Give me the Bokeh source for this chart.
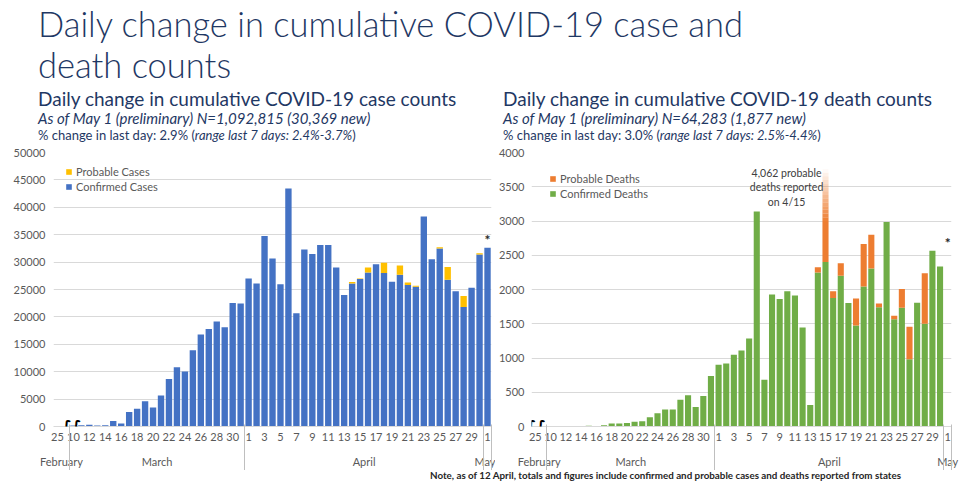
import numpy as np
from bokeh.plotting import figure
from bokeh.models import (ColumnDataSource, Range1d, FixedTicker, LinearAxis,
                          Legend, LegendItem, Label, Div)
from bokeh.layouts import column, row
from bokeh.embed import file_html
from bokeh.resources import INLINE

# ---------------- data ----------------
day_labels = ["25", "",
              "10", "11", "12", "13", "14", "15", "16", "17", "18", "19", "20",
              "21", "22", "23", "24", "25", "26", "27", "28", "29", "30", "31",
              "1", "2", "3", "4", "5", "6", "7", "8", "9", "10", "11", "12", "13",
              "14", "15", "16", "17", "18", "19", "20", "21", "22", "23", "24",
              "25", "26", "27", "28", "29", "30",
              "1"]
months = ["February", "March", "April", "May"]
month_sizes = [2, 22, 30, 1]

cases_confirmed = [0, 0,
                   200, 250, 300, 200, 250, 1000, 550, 2650, 3250, 4600, 3450,
                   5650, 8650, 10800, 10050, 13900, 16800, 17800, 19150, 18100,
                   22550, 22450,
                   27000, 26100, 34750, 30650, 25950, 43450, 20650, 32300, 31500,
                   33100, 33100, 29000, 24000, 26100, 26900, 28100, 29600, 28000,
                   26400, 27700, 25800, 25500, 38300, 30500, 32500, 26800, 24700,
                   21800, 25300, 31400,
                   32600]
cases_probable = [0, 0,
                  0, 0, 0, 0, 0, 0, 0, 0, 0, 0, 0, 0, 0, 0, 0, 0, 0, 0, 0, 0, 0, 0,
                  0, 0, 0, 0, 0, 0, 0, 0, 0, 0, 0, 0, 0, 250, 100, 900, 0, 1900,
                  0, 1700, 500, 200, 0, 0, 200, 2300, 0, 2000, 0, 200,
                  0]
deaths_confirmed = [0, 0,
                    2, 3, 2, 3, 5, 10, 5, 20, 45, 45, 50, 70, 78, 135, 195, 250,
                    247, 391, 457, 283, 445, 738,
                    902, 919, 1046, 1109, 1285, 3138, 684, 1926, 1862, 1975, 1911,
                    1447, 313, 2248, 2400, 1877, 2199, 1804, 1476, 2043, 2307,
                    1740, 2986, 1564, 1735, 982, 1808, 1500, 2566, 2336,
                    0]
deaths_probable = [0, 0,
                   0, 0, 0, 0, 0, 0, 0, 0, 0, 0, 0, 0, 0, 0, 0, 0, 0, 0, 0, 0, 0, 0,
                   0, 0, 0, 0, 0, 0, 0, 0, 0, 0, 0, 0, 0, 78, 4062, 98, 186, 0,
                   391, 621, 493, 54, 0, 54, 274, 474, 0, 738, 0, 0,
                   0]

case_ticks = [0, 5000, 10000, 15000, 20000, 25000, 30000, 35000, 40000, 45000, 50000]
death_ticks = [0, 500, 1000, 1500, 2000, 2500, 3000, 3500, 4000]

main_title = ["Daily change in cumulative COVID-19 case and", "death counts"]
case_sub = ["Daily change in cumulative COVID-19 case counts",
            "As of May 1 (preliminary) N=1,092,815 (30,369 new)",
            "% change in last day: 2.9% (", "range last 7 days: 2.4%-3.7%", ")"]
death_sub = ["Daily change in cumulative COVID-19 death counts",
             "As of May 1 (preliminary) N=64,283 (1,877 new)",
             "% change in last day: 3.0% (", "range last 7 days: 2.5%-4.4%", ")"]
note_text = ("Note, as of 12 April, totals and figures include confirmed and "
             "probable cases and deaths reported from states")

# ---------------- style ----------------
FONT = "Lato"
GRAY = "#595959"
GRID = "#D9D9D9"
NAVY = "#1F3864"
HEADER_H = 144
FIG_H = 326
NOTE_H = 14


def make_chart(conf, prob, y_ticks, conf_color, prob_color, conf_label, prob_label,
               width, min_left, min_right, y_standoff, legend_xy):
    n = len(day_labels)
    x = np.arange(n)
    conf = np.asarray(conf, float)
    prob = np.asarray(prob, float)
    ymax = y_ticks[-1]
    p = figure(width=width, height=FIG_H, output_backend="svg", toolbar_location=None,
               tools="", x_range=Range1d(-0.5, n - 0.5), y_range=Range1d(0, ymax),
               min_border_left=min_left, min_border_right=min_right,
               min_border_top=8, min_border_bottom=0)
    p.outline_line_color = None
    p.background_fill_color = "white"
    p.border_fill_color = "white"
    p.xgrid.visible = False
    p.ygrid.ticker = FixedTicker(ticks=y_ticks)
    p.ygrid.grid_line_color = GRID

    total = conf + prob
    fade_start, fade_end = 0.75 * ymax, 0.94 * ymax
    over = total > ymax
    prob_top = np.where(over, fade_start, total)
    src = ColumnDataSource(dict(x=x, conf=conf, pbot=conf, ptop=prob_top))
    r_conf = p.vbar(x="x", bottom=0, top="conf", width=0.8, source=src,
                    fill_color=conf_color, line_color=None)
    r_prob = p.vbar(x="x", bottom="pbot", top="ptop", width=0.8, source=src,
                    fill_color=prob_color, line_color=None)
    if over.any():
        steps = 14
        edges = np.linspace(fade_start, fade_end, steps + 1)
        for k in range(steps):
            p.vbar(x=x[over], bottom=edges[k], top=edges[k + 1], width=0.8,
                   fill_color=prob_color, line_color=None,
                   fill_alpha=1 - (k + 0.5) / steps)

    legend = Legend(items=[LegendItem(label=prob_label, renderers=[r_prob]),
                           LegendItem(label=conf_label, renderers=[r_conf])],
                    location=legend_xy, orientation="vertical",
                    background_fill_alpha=0, border_line_color=None,
                    padding=0, margin=0, spacing=0,
                    glyph_width=7, glyph_height=7, label_height=15,
                    label_standoff=4, label_text_font=FONT,
                    label_text_font_size="11px", label_text_color=GRAY)
    p.add_layout(legend)

    yax = p.yaxis[0]
    yax.ticker = FixedTicker(ticks=y_ticks)
    yax.axis_line_color = None
    yax.major_tick_line_color = None
    yax.minor_tick_line_color = None
    yax.major_tick_in = 0
    yax.major_tick_out = 0
    yax.minor_tick_in = 0
    yax.minor_tick_out = 0
    yax.major_label_text_font = FONT
    yax.major_label_text_font_size = "11px"
    yax.major_label_text_color = GRAY
    yax.major_label_standoff = y_standoff

    sizes = np.asarray(month_sizes)
    starts = np.cumsum(sizes) - sizes
    bounds = [float(b) for b in (np.cumsum(sizes) - 0.5)]
    even = list(range(0, n, 2))

    # day numbers
    xax = p.xaxis[0]
    xax.ticker = FixedTicker(ticks=even)
    xax.major_label_overrides = {i: day_labels[i] for i in even}
    xax.major_tick_line_color = None
    xax.major_tick_in = 0
    xax.major_tick_out = 0
    xax.minor_tick_line_color = None
    xax.minor_tick_in = 0
    xax.minor_tick_out = 0
    xax.axis_line_color = GRID
    xax.major_label_text_font = FONT
    xax.major_label_text_font_size = "11px"
    xax.major_label_text_color = GRAY
    xax.major_label_standoff = 6

    # month names
    centers = starts + (sizes - 1) / 2.0
    keys = [int(c) if float(c).is_integer() else float(c) for c in centers]
    month_ax = LinearAxis(ticker=FixedTicker(ticks=keys),
                          major_label_overrides={k: m for k, m in zip(keys, months)},
                          axis_line_color=None, major_tick_line_color=None,
                          minor_tick_line_color=None, major_tick_in=0, major_tick_out=0,
                          minor_tick_in=0, minor_tick_out=0,
                          major_label_text_font=FONT, major_label_text_font_size="11px",
                          major_label_text_color=GRAY, major_label_standoff=11)
    p.add_layout(month_ax, "below")

    # group separators (drawn upward from the bottom-most axis)
    sep_ax = LinearAxis(ticker=FixedTicker(ticks=[], minor_ticks=bounds),
                        axis_line_color=None, major_tick_line_color=None,
                        major_tick_in=0, major_tick_out=0,
                        minor_tick_in=46, minor_tick_out=0,
                        minor_tick_line_color="#BFBFBF", major_label_text_font_size="0px")
    p.add_layout(sep_ax, "below")
    return p, x, conf, prob


def break_mark(p, xpos):
    p.add_layout(Label(x=xpos, y=0, text="∫∫", text_align="center",
                       text_baseline="middle", text_font="DejaVu Sans",
                       text_font_size="16px", text_font_style="bold",
                       text_color="black"))


# ---------------- left: cases ----------------
p1, x1, c1, pr1 = make_chart(cases_confirmed, cases_probable, case_ticks,
                             "#4472C4", "#FFC000", "Confirmed Cases", "Probable Cases",
                             width=495, min_left=53, min_right=4, y_standoff=8,
                             legend_xy=(12, 232))
break_mark(p1, 1.75)
p1.add_layout(Label(x=x1[-1], y=c1[-1] + pr1[-1], text="*", text_align="center",
                    text_baseline="bottom", text_font=FONT, text_font_size="14px",
                    text_font_style="bold", text_color="#262626"))

# ---------------- right: deaths ----------------
p2, x2, c2, pr2 = make_chart(deaths_confirmed, deaths_probable, death_ticks,
                             "#70AD47", "#ED7D31", "Confirmed Deaths", "Probable Deaths",
                             width=465, min_left=33, min_right=9, y_standoff=7,
                             legend_xy=(18, 225))
break_mark(p2, 0.1)
p2.add_layout(Label(x=x2[-1], y=2680, text="*", text_align="center",
                    text_baseline="middle", text_font=FONT, text_font_size="14px",
                    text_font_style="bold", text_color="#262626"))
for txt, yy in zip(["4,062 probable", "deaths reported", "on 4/15"], [3700, 3490, 3280]):
    p2.add_layout(Label(x=32.9, y=yy, text=txt, text_align="center",
                        text_baseline="middle", text_font=FONT,
                        text_font_size="10.5px", text_color="#404040"))
p2.add_layout(Label(x=46.5, y=0, y_offset=-39, text="*Preliminary", text_align="center",
                    text_baseline="middle", text_font=FONT, text_font_size="10px",
                    text_font_style="bold", text_color="#262626"))


# ---------------- header & note ----------------
def line(left, top, size, text, extra=""):
    return (f'<div style="position:absolute;left:{left}px;top:{top}px;'
            f'font-size:{size}px;line-height:1;white-space:nowrap;{extra}">{text}</div>')


def sub_block(left, sub):
    return (line(left, 89, 19, sub[0]) +
            line(left, 110.5, 15, sub[1], "font-style:italic;") +
            line(left, 129, 13, f"{sub[2]}<i>{sub[3]}</i>{sub[4]}"))


header_html = (f'<div style="position:relative;width:960px;height:{HEADER_H}px;'
               f'font-family:{FONT},sans-serif;color:{NAVY};">'
               + line(38, 7, 34.5, main_title[0], "font-weight:300;")
               + line(38, 48, 34.5, main_title[1], "font-weight:300;")
               + sub_block(38, case_sub) + sub_block(503, death_sub) + '</div>')
header = Div(text=header_html, width=960, height=HEADER_H, margin=0)

note_html = (f'<div style="position:relative;width:960px;height:{NOTE_H}px;'
             f'font-family:{FONT},sans-serif;">'
             + line(430, 1, 9.8, note_text, "font-weight:bold;color:#262626;")
             + '</div>')
note = Div(text=note_html, width=960, height=NOTE_H, margin=0)

layout = column(header, row(p1, p2, spacing=0), note, spacing=0)
open("out.html", "w").write(file_html(layout, INLINE))
